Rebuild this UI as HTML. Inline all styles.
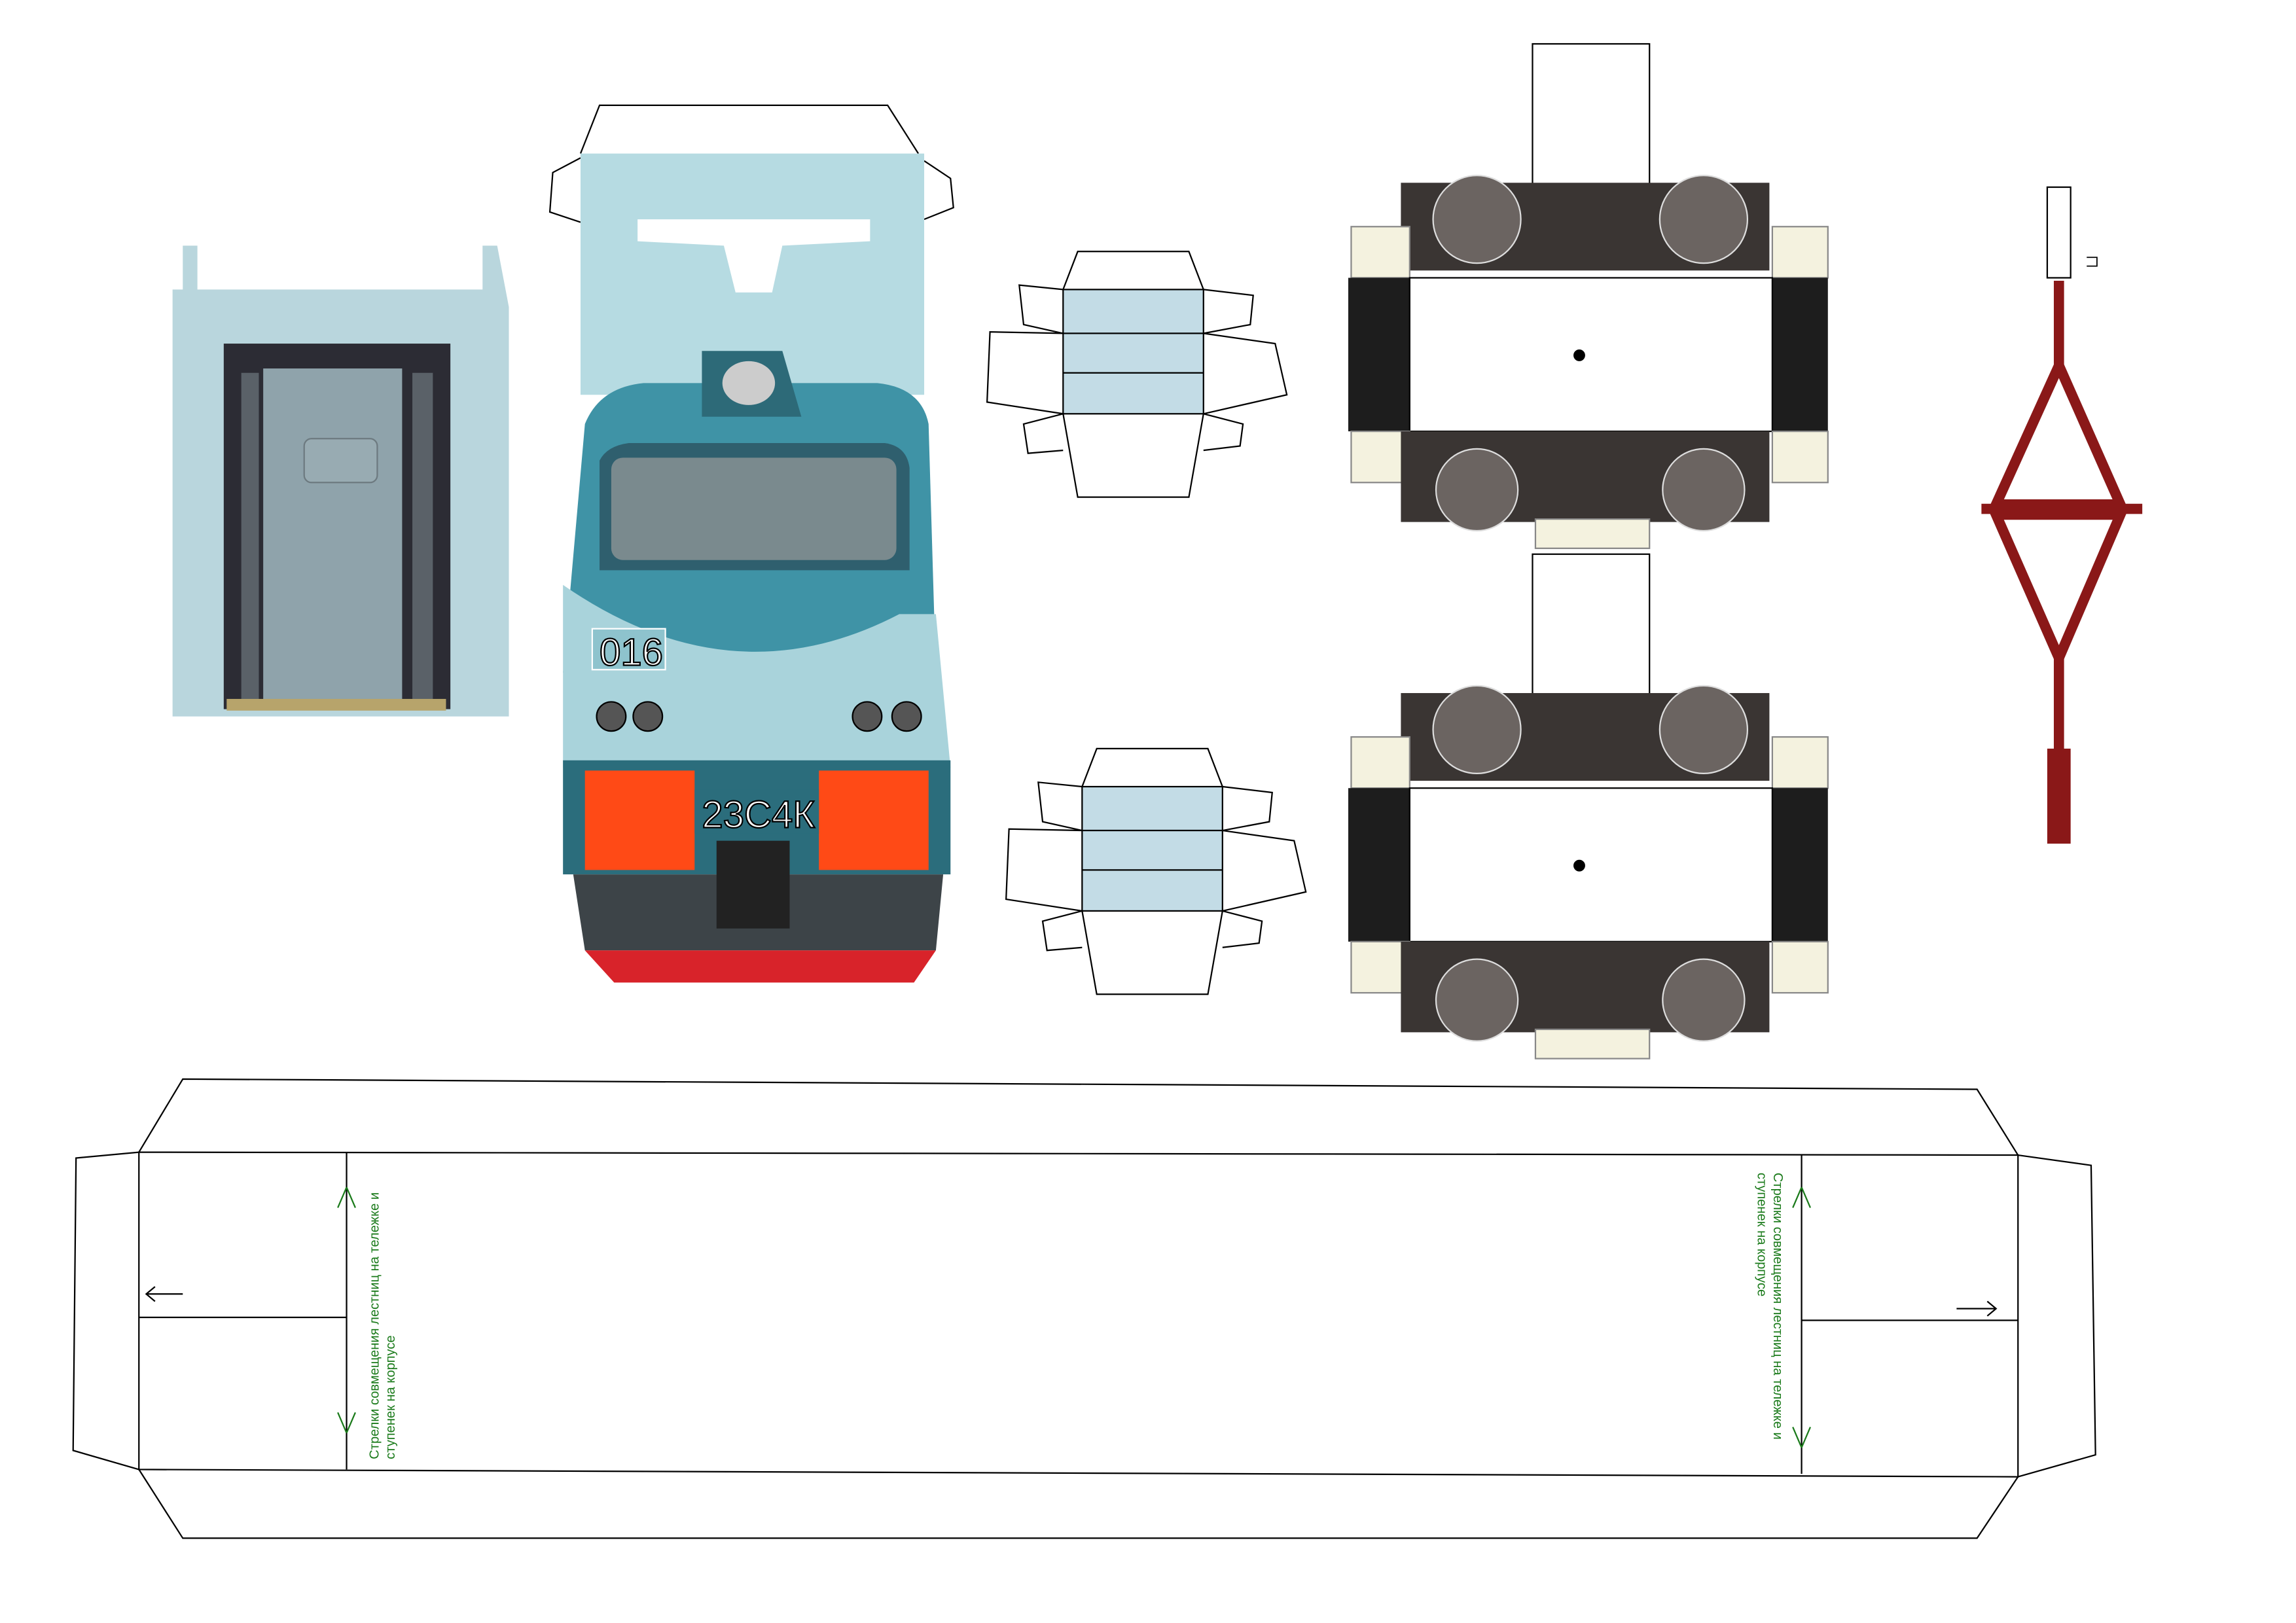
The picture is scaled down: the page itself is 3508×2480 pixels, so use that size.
<!DOCTYPE html>
<html><head><meta charset="utf-8"><style>
html,body{margin:0;padding:0;background:#fff;width:3508px;height:2480px;overflow:hidden}
svg{display:block}
</style></head><body>
<svg width="3508" height="2480" viewBox="0 0 1570 1110" preserveAspectRatio="xMinYMin meet" xmlns="http://www.w3.org/2000/svg" font-family="Liberation Sans, sans-serif">
<g fill="none" stroke="#000" stroke-width="1">
<path d="M118,490 L118,198 L125,198 L125,168 L135,168 L135,198 L330,198 L330,168 L340,168 L348,210 L348,490 Z" fill="#b9d6dd" stroke="none"/>
<rect x="153" y="235" width="155" height="250" fill="#2c2c34" stroke="none"/>
<rect x="180" y="252" width="95" height="230" fill="#8fa3ab" stroke="none"/>
<rect x="165" y="255" width="12" height="225" fill="#5a6168" stroke="none"/>
<rect x="282" y="255" width="14" height="225" fill="#5a6168" stroke="none"/>
<rect x="208" y="300" width="50" height="30" rx="5" fill="#98abb2" stroke="#6d7a80"/>
<rect x="155" y="478" width="150" height="8" fill="#b7a46b" stroke="none"/>

<path d="M397,105 L410,72 L607,72 L628,105" />
<path d="M397,108 L378,118 L376,145 L397,152"/>
<path d="M632,110 L650,122 L652,142 L632,150"/>
<path d="M397,105 L632,105 L632,270 L397,270 Z" fill="#b6dbe2" stroke="none"/>
<path d="M436,150 L595,150 L595,165 L535,168 L528,200 L503,200 L495,168 L436,165 Z" fill="#fff" stroke="none"/>
<path d="M400,290 Q410,265 440,262 L600,262 Q630,265 635,290 L640,460 L385,460 Z" fill="#3f93a6" stroke="none"/>
<path d="M385,400 Q500,480 615,420 L640,420 L650,525 L385,525 Z" fill="#a9d3db" stroke="none"/>
<path d="M480,240 L535,240 L548,285 L480,285 Z" fill="#2d6a78" stroke="none"/>
<ellipse cx="512" cy="262" rx="18" ry="15" fill="#ccc" stroke="none"/>
<path d="M410,315 Q415,305 430,303 L605,303 Q620,305 622,320 L622,390 L410,390 Z" fill="#2f5f6e" stroke="none"/>
<rect x="418" y="313" width="195" height="70" rx="8" fill="#7a8a8e" stroke="none"/>
<rect x="405" y="430" width="50" height="28" fill="#8ec3cd" stroke="#fff"/>
<text x="410" y="455" font-size="26" fill="#fff">016</text>
<circle cx="418" cy="490" r="10" fill="#555"/><circle cx="443" cy="490" r="10" fill="#555"/>
<circle cx="593" cy="490" r="10" fill="#555"/><circle cx="620" cy="490" r="10" fill="#555"/>
<rect x="385" y="520" width="265" height="78" fill="#2b6d7c" stroke="none"/>
<rect x="400" y="527" width="75" height="68" fill="#ff4a16" stroke="none"/>
<rect x="560" y="527" width="75" height="68" fill="#ff4a16" stroke="none"/>
<rect x="475" y="540" width="85" height="30" fill="#2b6d7c" stroke="none"/>
<text x="480" y="566" font-size="26" fill="#fff">23С4К</text>
<path d="M392,598 L645,598 L640,650 L400,650 Z" fill="#3d4448" stroke="none"/>
<path d="M400,650 L640,650 L625,672 L420,672 Z" fill="#d8232a" stroke="none"/>
<rect x="490" y="575" width="50" height="60" fill="#222" stroke="none"/>

<g id="box">
<rect x="727" y="198" width="96" height="85" fill="#c3dce6"/>
<line x1="727" y1="228" x2="823" y2="228"/><line x1="727" y1="255" x2="823" y2="255"/>
<path d="M727,198 L737,172 L813,172 L823,198"/>
<path d="M727,283 L737,340 L813,340 L823,283"/>
<path d="M727,198 L697,195 L700,222 L727,228"/>
<path d="M823,198 L857,202 L855,222 L823,228"/>
<path d="M727,228 L677,227 L675,275 L727,283"/>
<path d="M823,228 L872,235 L880,270 L823,283"/>
<path d="M727,283 L700,290 L703,310 L727,308"/>
<path d="M823,283 L850,290 L848,305 L823,308"/>
</g>
<use href="#box" transform="translate(13,340)"/>

<g id="bogie">
<rect x="1048" y="30" width="80" height="100"/>
<rect x="958" y="125" width="252" height="60" fill="#3a3533" stroke="none"/>
<circle cx="1010" cy="150" r="30" fill="#6b6461" stroke="#ddd"/><circle cx="1165" cy="150" r="30" fill="#6b6461" stroke="#ddd"/>
<rect x="924" y="155" width="40" height="35" fill="#f4f2df" stroke="#888"/>
<rect x="1212" y="155" width="38" height="35" fill="#f4f2df" stroke="#888"/>
<rect x="922" y="190" width="42" height="105" fill="#1d1d1d" stroke="none"/>
<rect x="1212" y="190" width="38" height="105" fill="#1d1d1d" stroke="none"/>
<rect x="964" y="190" width="248" height="105"/>
<circle cx="1080" cy="243" r="3.5" fill="#000"/>
<rect x="924" y="295" width="40" height="35" fill="#f4f2df" stroke="#888"/>
<rect x="1212" y="295" width="38" height="35" fill="#f4f2df" stroke="#888"/>
<rect x="958" y="295" width="252" height="62" fill="#3a3533" stroke="none"/>
<circle cx="1010" cy="335" r="28" fill="#6b6461" stroke="#ddd"/><circle cx="1165" cy="335" r="28" fill="#6b6461" stroke="#ddd"/>
<rect x="1050" y="355" width="78" height="20" fill="#f4f2df" stroke="#888"/>
</g>
<use href="#bogie" transform="translate(0,349)"/>

<rect x="1400" y="128" width="16" height="62" fill="#fff"/>
<path d="M1427,176 L1434,176 L1434,182 L1427,182" stroke-width="0.8"/>
<g stroke="#8a1818" stroke-width="7" fill="none">
<line x1="1408" y1="192" x2="1408" y2="250"/>
<path d="M1408,250 L1365,345 L1450,345 Z"/>
<path d="M1365,352 L1450,352 L1408,450 Z"/>
<line x1="1408" y1="450" x2="1408" y2="515"/>
<line x1="1355" y1="348" x2="1465" y2="348"/>
</g>
<rect x="1400" y="512" width="16" height="65" fill="#8a1818" stroke="none"/>

<path d="M95,788 L125,738 L1352,745 L1380,790"/>
<path d="M95,1005 L125,1052 L1352,1052 L1380,1010"/>
<path d="M95,788 L1380,790 L1380,1010 L95,1005 Z"/>
<path d="M95,788 L52,792 L50,992 L95,1005"/>
<path d="M1380,790 L1430,797 L1433,995 L1380,1010"/>
<line x1="237" y1="788" x2="237" y2="1005"/>
<line x1="1232" y1="790" x2="1232" y2="1008"/>
<line x1="95" y1="901" x2="237" y2="901"/>
<line x1="1232" y1="903" x2="1380" y2="903"/>
<path d="M125,885 L100,885 M106,880 L100,885 L106,890"/>
<path d="M1338,895 L1365,895 M1359,890 L1365,895 L1359,900"/>
<g stroke="#1a7a1a">
<path d="M237,812 L231,826 M237,812 L243,826"/>
<path d="M237,980 L231,966 M237,980 L243,966"/>
<path d="M1232,812 L1226,826 M1232,812 L1238,826"/>
<path d="M1232,990 L1226,976 M1232,990 L1238,976"/>
</g>
</g>
<g fill="#1a7a1a" font-size="9">
<text transform="translate(259,998) rotate(-90)">Стрелки совмещения лестниц на тележке и</text>
<text transform="translate(270,998) rotate(-90)">ступенек на корпусе</text>
<text transform="translate(1213,802) rotate(90)">Стрелки совмещения лестниц на тележке и</text>
<text transform="translate(1202,802) rotate(90)">ступенек на корпусе</text>
</g>
</svg>
</body></html>
